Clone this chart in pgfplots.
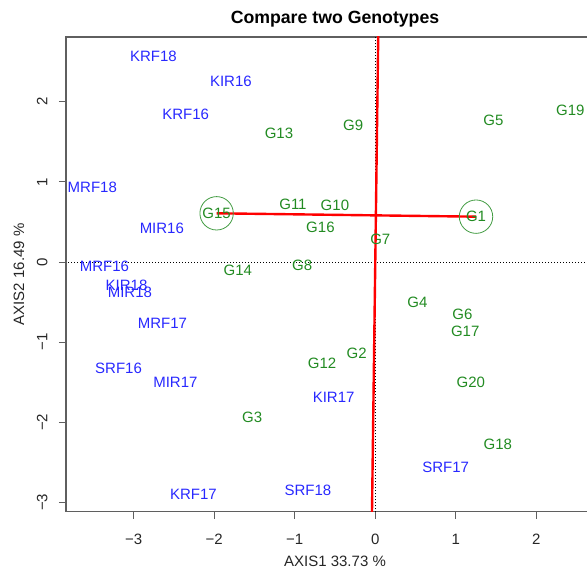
\documentclass[border=0pt]{standalone}
\usepackage{fontspec}
\setmainfont{Liberation Sans}
\usepackage{pgfplots}
\pgfplotsset{compat=1.18}
\definecolor{envblue}{RGB}{40,40,255}
\definecolor{genogreen}{RGB}{34,139,34}
\definecolor{axgray}{RGB}{95,95,95}
\newcommand{\lab}{\fontsize{15bp}{18bp}\selectfont}
\begin{document}
\begin{tikzpicture}
\begin{axis}[
  scale only axis, width=538bp, height=474.7bp,
  xmin=-3.84, xmax=2.84, ymin=-3.117, ymax=2.809,
  xtick={-3,-2,-1,0,1,2}, ytick={-3,-2,-1,0,1,2},
  xticklabels={−3,−2,−1,0,1,2}, yticklabels={−3,−2,−1,0,1,2},
  tick align=outside, major tick length=7bp, tick pos=left,
  axis line style={axgray, line width=1.4bp},
  every tick/.style={axgray, line width=1bp},
  tick label style={font=\lab, text=black!85},
  xticklabel shift=12bp,
  yticklabel style={rotate=90, anchor=south},
  yticklabel shift=8bp,
  title={\bfseries Compare two Genotypes},
  title style={font=\fontsize{17.7bp}{20bp}\selectfont, at={(axis description cs:0.5,1.024)}, anchor=center},
  xlabel={AXIS1 33.73 \%},
  xlabel style={font=\lab, text=black!85, at={(axis description cs:0.5,-0.1053)}, anchor=center},
  ylabel={AXIS2 16.49 \%},
  ylabel style={font=\lab, text=black!85, at={(axis description cs:-0.0874,0.5)}, anchor=center},
]
\coordinate (BL) at (rel axis cs:0,0);
\coordinate (TR) at (rel axis cs:1,1);
% reference dotted lines
\addplot[black, dash pattern=on 0.9bp off 2.1bp, line width=0.9bp] coordinates {(-4,0) (3,0)};
\addplot[black, dash pattern=on 0.9bp off 2.1bp, line width=0.9bp] coordinates {(0,-3.5) (0,3)};
% environments
\addplot[only marks, mark=none, nodes near coords, point meta=explicit symbolic,
  nodes near coords style={font=\lab, anchor=center, text=envblue}]
  table[meta=label]{
x y label
-2.755 2.572 KRF18
-1.793 2.251 KIR16
-2.355 1.844 KRF16
-3.513 0.933 MRF18
-2.650 0.416 MIR16
-3.362 -0.058 MRF16
-3.088 -0.287 KIR18
-3.047 -0.383 MIR18
-2.643 -0.766 MRF17
-3.188 -1.332 SRF16
-2.482 -1.506 MIR17
-2.258 -2.900 KRF17
-0.836 -2.846 SRF18
-0.517 -1.689 KIR17
0.874 -2.568 SRF17
};
% genotypes
\addplot[only marks, mark=none, nodes near coords, point meta=explicit symbolic,
  nodes near coords style={font=\lab, anchor=center, text=genogreen}]
  table[meta=label]{
x y label
1.251 0.566 G1
-0.231 -1.140 G2
-1.528 -1.943 G3
0.524 -0.503 G4
1.466 1.773 G5
1.083 -0.649 G6
0.062 0.283 G7
-0.907 -0.046 G8
-0.275 1.706 G9
-0.501 0.712 G10
-1.022 0.724 G11
-0.660 -1.265 G12
-1.196 1.602 G13
-1.706 -0.108 G14
-1.970 0.608 G15
-0.681 0.428 G16
1.117 -0.861 G17
1.522 -2.272 G18
2.422 1.898 G19
1.187 -1.506 G20
};
% circles around compared genotypes
\addplot[only marks, mark=o, mark size=16.7bp, genogreen!85!white, mark options={line width=0.8bp}]
  coordinates {(-1.970,0.608) (1.251,0.566)};
% line joining the two genotypes and its perpendicular through the origin
\addplot[red, line width=2.4bp] coordinates {(-1.970,0.608) (1.251,0.566)};
\addplot[red, line width=2.4bp] coordinates {(0.0372,2.85) (-0.0417,-3.2)};
\end{axis}
\pgfresetboundingbox
\path[use as bounding box] ([xshift=-66bp,yshift=-58.3bp]BL) rectangle ([xshift=-17bp,yshift=37bp]TR);
\end{tikzpicture}
\end{document}
